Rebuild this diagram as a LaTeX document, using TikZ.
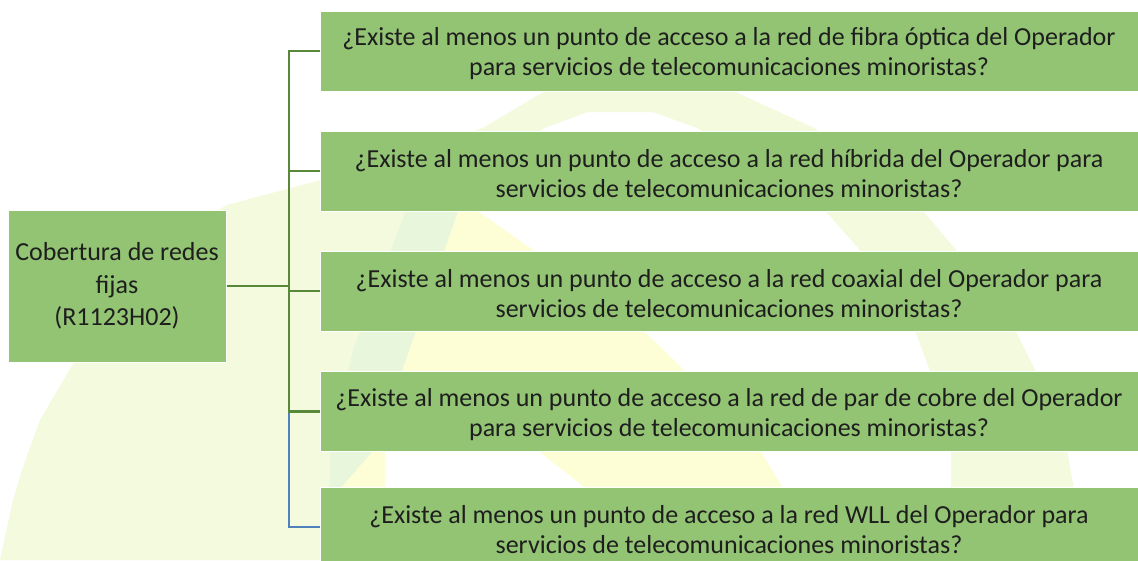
\documentclass[tikz,border=0pt]{standalone}
\usepackage{fontspec}
\setmainfont{Carlito}
\definecolor{boxfill}{RGB}{147,196,115}
\definecolor{lngreen}{RGB}{88,137,56}
\definecolor{lnblue}{RGB}{79,129,189}
\definecolor{wmyg}{RGB}{243,250,221}
\definecolor{wmgreen}{RGB}{232,246,220}
\definecolor{wmyellow}{RGB}{254,254,214}
\definecolor{txt}{RGB}{30,30,30}
\begin{document}
\begin{tikzpicture}[x=1pt,y=-1pt,
  qbox/.style={rectangle, fill=boxfill, draw=white, line width=1pt,
    inner sep=0pt, minimum width=818pt, minimum height=80pt,
    label={[text=txt, align=center, inner sep=0pt, yshift=-3pt,
      font=\fontsize{26pt}{30pt}\selectfont]center:#1}},
  lbox/.style={rectangle, fill=boxfill, draw=white, line width=1pt, text=txt,
    align=center, inner sep=0pt, minimum width=218pt, minimum height=152pt,
    font=\fontsize{26pt}{32.5pt}\selectfont},
  conn/.style={draw=lngreen, line width=2.7pt},
  connb/.style={draw=lnblue, line width=2.7pt}]
\useasboundingbox (0,0) rectangle (1138,560);
\clip (0,0) rectangle (1138,560);
\fill[white] (0,0) rectangle (1138,560);
% watermark
\fill[wmyg] (0,560) -- (13,500) -- (22,470) -- (40,420) -- (73,364) -- (120,290) -- (170,240)
  -- (227,205) -- (317,181) -- (400,155) -- (483,128) -- (540,94) -- (600,70) -- (650,62)
  -- (700,72) -- (740,94) -- (814,128) -- (870,170) -- (925,213) -- (956,250) -- (1000,300)
  -- (1034,368) -- (1067,450) -- (1074,490) -- (1080,560) -- (951,560) -- (951,450)
  -- (929,368) -- (916,333) -- (860,250) -- (827,213) -- (760,160) -- (697,128) -- (653,112)
  -- (588,112) -- (544,128) -- (470,195) -- (450,230) -- (420,290) -- (403,350) -- (385,420)
  -- (370,470) -- (360,560) -- cycle;
\fill[wmyellow] (440,200) -- (462,200) -- (533,250) -- (646,333) -- (682,368) -- (762,453)
  -- (784,490) -- (815,560) -- (620,560) -- (588,490) -- (541,453) -- (500,420) -- (385,420)
  -- (385,492) -- (340,492) -- (403,333) -- (450,230) -- cycle;
\fill[wmgreen] (410,200) -- (462,200) -- (403,368) -- (372,452) -- (337,492) -- (330,492)
  -- (330,452) -- (353,350) -- cycle;
% nodes
\node[lbox] (l) at (117,286) {Cobertura de redes\\fijas\\(R1123H02)};
\node[qbox={¿Existe al menos un punto de acceso a la red de fibra óptica del Operador\\para servicios de telecomunicaciones minoristas?}] (r1) at (729,51) {};
\node[qbox={¿Existe al menos un punto de acceso a la red híbrida del Operador para\\servicios de telecomunicaciones minoristas?}] (r2) at (729,171) {};
\node[qbox={¿Existe al menos un punto de acceso a la red coaxial del Operador para\\servicios de telecomunicaciones minoristas?}] (r3) at (729,291) {};
\node[qbox={¿Existe al menos un punto de acceso a la red de par de cobre del Operador\\para servicios de telecomunicaciones minoristas?}] (r4) at (729,411.5) {};
\node[qbox={¿Existe al menos un punto de acceso a la red WLL del Operador para\\servicios de telecomunicaciones minoristas?}] (r5) at (729,527) {};
% connectors
\coordinate (j) at (289,286);
\draw[connb] (j |- r4.west) |- (r5.west);
\draw[conn] (l.east) -- (j);
\draw[conn] (j) |- (r1.west);
\draw[conn] (j) |- (r2.west);
\draw[conn] (j) |- (r3.west);
\draw[conn] (j) |- (r4.west);
\end{tikzpicture}
\end{document}
